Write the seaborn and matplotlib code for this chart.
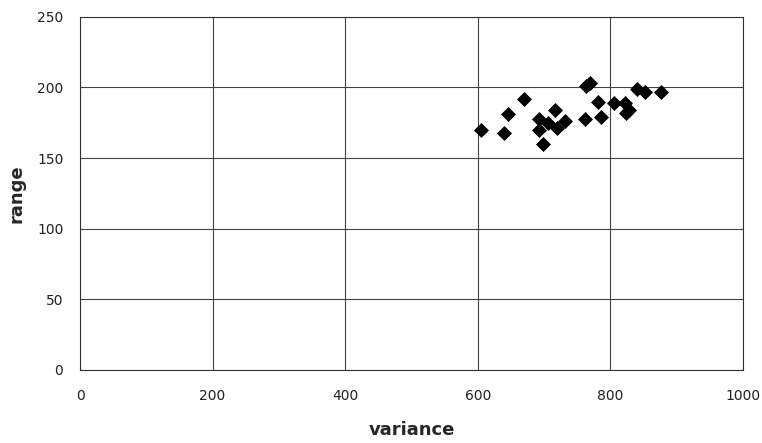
import pandas as pd
import seaborn as sns
import matplotlib.pyplot as plt

# данные
variance = [605, 639, 646, 670, 692, 693, 698, 706, 717, 720, 731, 761, 764, 770,
            781, 786, 806, 822, 823, 828, 840, 853, 876]
range_vals = [170, 168, 181, 192, 178, 170, 160, 175, 184, 171, 176, 178, 201, 203,
              190, 179, 189, 189, 182, 184, 199, 197, 197]

df = pd.DataFrame({'variance': variance, 'range': range_vals})

sns.set_style('white')
fig, ax = plt.subplots(figsize=(7.62, 4.43), dpi=100)
fig.subplots_adjust(left=0.105, right=0.975, top=0.962, bottom=0.165)

sns.scatterplot(data=df, x='variance', y='range', marker='D', color='black',
                s=50, edgecolor='black', ax=ax, zorder=3)

ax.set_xlim(0, 1000)
ax.set_ylim(0, 250)
ax.set_xticks(range(0, 1001, 200))
ax.set_yticks(range(0, 251, 50))
ax.grid(True, color='#444444', linewidth=0.8)
for s in ax.spines.values():
    s.set_color('#333333')
    s.set_linewidth(0.8)

ax.tick_params(axis='both', length=0, labelsize=10, colors='#222222')
ax.tick_params(axis='x', pad=14)
ax.tick_params(axis='y', pad=12)
ax.set_xlabel('variance', fontsize=13, fontweight='bold', labelpad=13)
ax.set_ylabel('range', fontsize=13, fontweight='bold', labelpad=8)

plt.savefig('out.png', dpi=100)
